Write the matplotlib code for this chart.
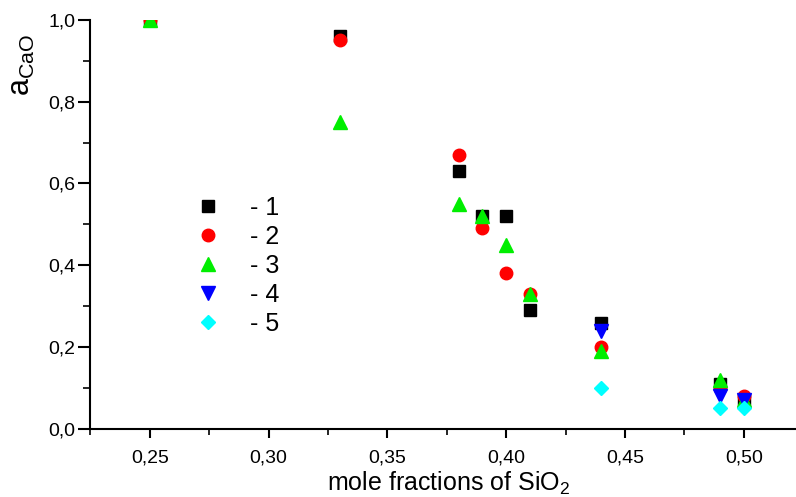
import matplotlib
matplotlib.use("Agg")
import matplotlib.pyplot as plt
from matplotlib.ticker import MultipleLocator, FuncFormatter

plt.rcParams['font.family'] = ['Liberation Sans', 'DejaVu Sans']
plt.rcParams['mathtext.fontset'] = 'custom'
plt.rcParams['mathtext.rm'] = 'Liberation Sans'
plt.rcParams['mathtext.it'] = 'Liberation Sans'

# data
x1 = [0.25, 0.33, 0.38, 0.39, 0.40, 0.41, 0.44, 0.49, 0.50]
y1 = [1.00, 0.96, 0.63, 0.52, 0.52, 0.29, 0.26, 0.11, 0.07]
x2 = [0.25, 0.33, 0.38, 0.39, 0.40, 0.41, 0.44, 0.49, 0.50]
y2 = [1.00, 0.95, 0.67, 0.49, 0.38, 0.33, 0.20, 0.10, 0.08]
x3 = [0.25, 0.33, 0.38, 0.39, 0.40, 0.41, 0.44, 0.49, 0.50]
y3 = [1.00, 0.75, 0.55, 0.52, 0.45, 0.33, 0.19, 0.12, 0.07]
x4 = [0.44, 0.49, 0.50]
y4 = [0.24, 0.08, 0.07]
x5 = [0.44, 0.49, 0.50]
y5 = [0.10, 0.05, 0.05]

labels = ['- 1', '- 2', '- 3', '- 4', '- 5']

fig = plt.figure(figsize=(7.96, 4.97), dpi=100)
ax = fig.add_axes([0.113, 0.137, 0.887, 0.823])

ax.plot(x1, y1, 's', color='black', markersize=8, label=labels[0], linestyle='none')
ax.plot(x2, y2, 'o', color='red', markersize=9, label=labels[1], linestyle='none')
ax.plot(x3, y3, '^', color='#00ee00', markersize=10, label=labels[2], linestyle='none')
ax.plot(x4, y4, 'v', color='blue', markersize=10, label=labels[3], linestyle='none')
ax.plot(x5, y5, 'D', color='cyan', markersize=7, label=labels[4], linestyle='none')

ax.set_xlim(0.2248, 0.522)
ax.set_ylim(0, 1.0)

ax.spines['top'].set_visible(False)
ax.spines['right'].set_visible(False)
ax.spines['left'].set_linewidth(1.5)
ax.spines['bottom'].set_linewidth(1.5)

ax.xaxis.set_major_locator(MultipleLocator(0.05))
ax.xaxis.set_minor_locator(MultipleLocator(0.025))
ax.yaxis.set_major_locator(MultipleLocator(0.2))
ax.yaxis.set_minor_locator(MultipleLocator(0.1))
ax.xaxis.set_major_formatter(FuncFormatter(lambda v, p: ('%.2f' % v).replace('.', ',')))
ax.yaxis.set_major_formatter(FuncFormatter(lambda v, p: ('%.1f' % v).replace('.', ',')))
ax.tick_params(which='major', direction='out', width=1.5, labelsize=14)
ax.tick_params(axis='x', which='major', length=6.5, pad=8)
ax.tick_params(axis='y', which='major', length=8.5, pad=2)
ax.tick_params(axis='x', which='minor', direction='out', length=4, width=1.2)
ax.tick_params(axis='y', which='minor', direction='out', length=5, width=1.2)

fig.text(0.563, 0.028, 'mole fractions of SiO$_2$', fontsize=18, ha='center', va='center')
fig.text(0.028, 0.87, 'a$_{\\mathrm{CaO}}$', rotation=90, fontsize=22, ha='center', va='center')

ax.legend(loc='upper left', bbox_to_anchor=(0.135, 0.595), frameon=False, fontsize=18,
          handletextpad=1.2, labelspacing=0.2, handlelength=1.0, borderaxespad=0)

plt.savefig('out.png', dpi=100)
